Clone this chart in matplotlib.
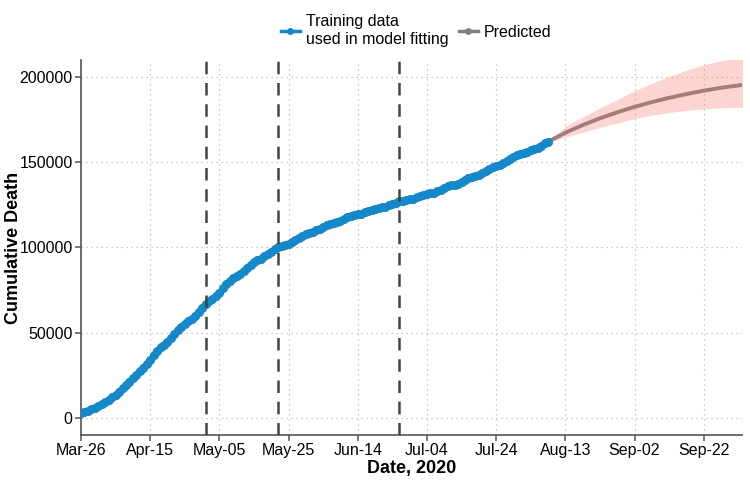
import numpy as np
import pandas as pd
import matplotlib
matplotlib.use("Agg")
import matplotlib.pyplot as plt

plt.rcParams['font.family'] = ['Liberation Sans', 'DejaVu Sans']

# cumulative deaths, daily from 2020-03-26 (training data)
train_start = "2020-03-26"
train_deaths = [
    2800, 3500, 4300, 5100, 5900, 7000, 8200, 9400, 10700, 12100,
    13600, 15300, 17400, 19400, 21300, 23400, 25300, 27200, 29500, 31800,
    34100, 36600, 39000, 41400, 43000, 44600, 46600, 49100, 51400, 53300,
    55200, 56600, 57800, 59900, 62300, 64700, 66800, 68600, 70000, 71300,
    73500, 76000, 78300, 80500, 82200, 83300, 84500, 86100, 88000, 89800,
    91300, 92500, 93400, 94700, 96200, 97600, 98800, 100200, 100900, 101600,
    102200, 103100, 104500, 105700, 106700, 107800, 108500, 109300, 110000, 111000,
    112000, 113000, 113700, 114300, 114800, 115600, 116700, 117600, 118400, 118900,
    119400, 119800, 120600, 121400, 122200, 122700, 123200, 123500, 124000, 124800,
    125600, 126300, 127000, 127500, 127800, 128200, 128700, 129400, 130100, 130700,
    131300, 131700, 132200, 133100, 134000, 134900, 135800, 136400, 136900, 137500,
    138500, 139400, 140500, 141400, 142000, 142500, 143600, 144800, 146000, 147100,
    147900, 148400, 149300, 150600, 151800, 153100, 154400, 155000, 155600, 156100,
    156900, 157600, 158500, 159800, 161000, 162000,
]

# fitted / predicted curve (every 5 days) and its band
pred_dates = ["2020-03-26", "2020-03-31", "2020-04-05", "2020-04-10", "2020-04-15",
              "2020-04-20", "2020-04-25", "2020-05-01", "2020-05-06", "2020-05-11",
              "2020-05-16", "2020-05-22", "2020-05-27", "2020-06-01", "2020-06-06",
              "2020-06-11", "2020-06-16", "2020-06-21", "2020-06-25", "2020-06-26",
              "2020-07-01", "2020-07-06", "2020-07-11", "2020-07-16", "2020-07-21",
              "2020-07-26", "2020-07-31", "2020-08-04", "2020-08-08", "2020-08-13",
              "2020-08-18", "2020-08-23", "2020-08-28", "2020-09-02", "2020-09-07",
              "2020-09-12", "2020-09-17", "2020-09-22", "2020-09-27", "2020-10-04"]
pred_deaths = [2800, 7000, 13600, 23400, 34100,
               45000, 55000, 66500, 75000, 83300,
               91000, 98800, 103100, 107800, 112200,
               116100, 119100, 122000, 124600, 127000,
               129600, 132200, 135800, 140000, 145300,
               150000, 154400, 158200, 162000, 167300,
               171800, 175800, 179300, 182500, 185300,
               187800, 190000, 192000, 193700, 195600]

band_dates = ["2020-08-08", "2020-08-13", "2020-08-18", "2020-08-23", "2020-08-28",
              "2020-09-02", "2020-09-07", "2020-09-12", "2020-09-17", "2020-09-22",
              "2020-09-27", "2020-10-04"]
band_low = [162000, 164600, 167600, 170400, 173000, 175600, 177600, 179200, 180400,
            181300, 181900, 182400]
band_high = [162000, 171000, 176500, 181800, 186800, 191900, 196400, 200400, 204000,
             207200, 209600, 212000]

# dates of the vertical dashed lines
phase_dates = ["2020-05-01", "2020-05-22", "2020-06-26"]

t_train = pd.date_range(train_start, periods=len(train_deaths), freq="D")
t_pred = pd.to_datetime(pred_dates)
t_band = pd.to_datetime(band_dates)

fig = plt.figure(figsize=(7.5, 4.8), dpi=100)
ax = fig.add_axes([0.108, 0.094, 0.881, 0.781])

ax.plot(t_pred, pred_deaths, color="#808080", lw=2.8, zorder=2)
ax.fill_between(t_band, band_low, band_high, color="#F8766D", alpha=0.3, lw=0, zorder=3)
ax.plot(t_train, train_deaths, color="#1488C8", lw=4, marker="o", ms=6.5,
        markeredgewidth=0, zorder=4)

for d in phase_dates:
    ax.axvline(pd.Timestamp(d), color="#444444", lw=1.8, ls=(0, (5, 3.5)), zorder=5)

ax.set_xlim(pd.Timestamp("2020-03-26"), pd.Timestamp("2020-10-03"))
ax.set_ylim(-10000, 210000)
ax.set_yticks([0, 50000, 100000, 150000, 200000])
ticks = pd.date_range("2020-03-26", "2020-10-03", freq="20D")
ax.set_xticks(ticks)
ax.set_xticklabels([d.strftime("%b-%d") for d in ticks])

ax.grid(True, ls=(0, (1, 3)), color="#BBBBBB", lw=0.9)
ax.set_axisbelow(True)
for s in ["top", "right"]:
    ax.spines[s].set_visible(False)
for s in ["left", "bottom"]:
    ax.spines[s].set_color("#555555")
    ax.spines[s].set_linewidth(1.2)
ax.tick_params(axis="both", labelsize=11.5, color="#555555", length=4, width=1.1,
               labelcolor="black", pad=2)

ax.set_xlabel("Date, 2020", fontsize=13, fontweight="bold", labelpad=1)
ax.set_ylabel("Cumulative Death", fontsize=13, fontweight="bold")
ax.yaxis.set_label_coords(-0.09, 0.5)

h1, = ax.plot([], [], color="#1488C8", lw=2.5, marker="o", ms=5, markeredgewidth=0)
h2, = ax.plot([], [], color="#808080", lw=2.5, marker="o", ms=5, markeredgewidth=0)
fig.legend([h1, h2], ["Training data\nused in model fitting", "Predicted"],
           loc="upper center", bbox_to_anchor=(0.555, 1.0), ncol=2, frameon=False,
           fontsize=11.5, handlelength=1.2, handletextpad=0.4, columnspacing=0.6)

fig.savefig("out.png", dpi=100)
